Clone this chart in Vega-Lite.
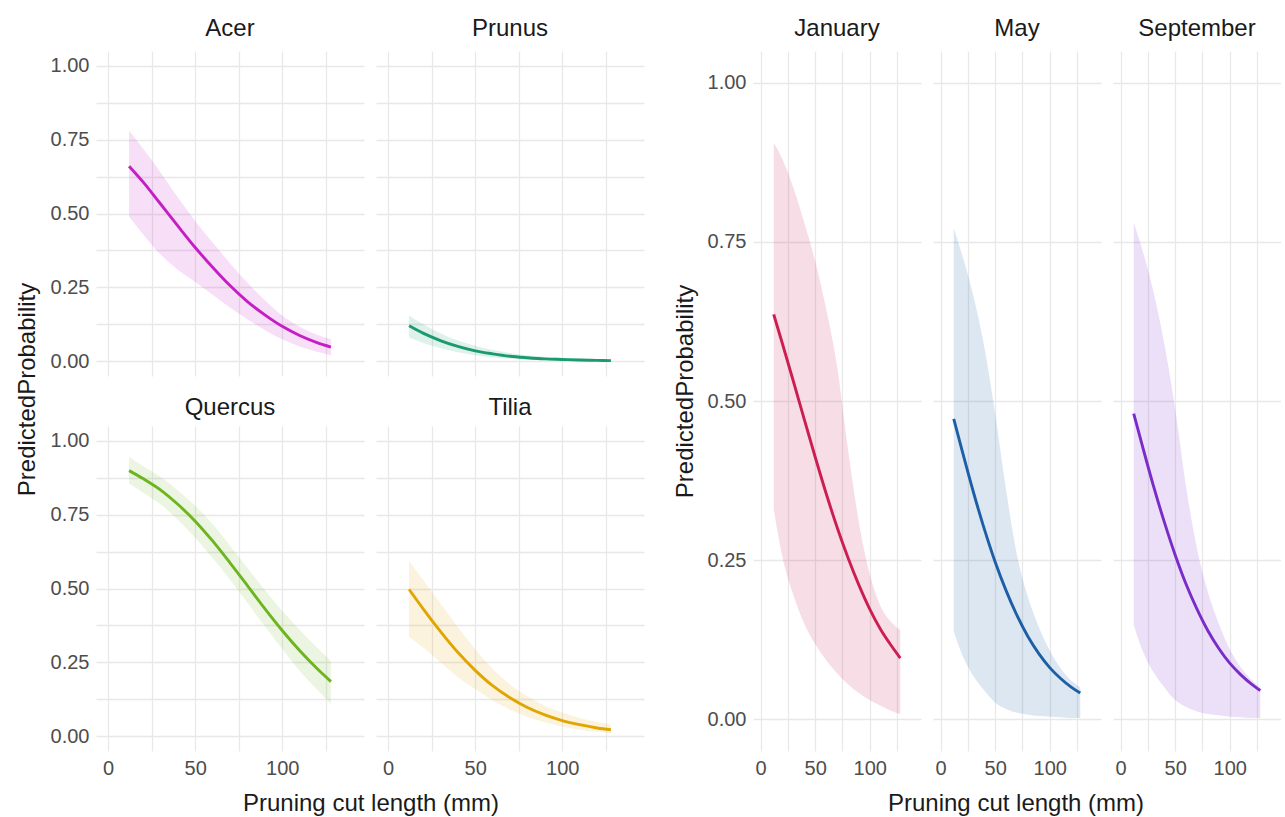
{
  "$schema": "https://vega.github.io/schema/vega-lite/v6.json",
  "padding": {"left": 16, "top": 17, "right": 0, "bottom": 0},
  "background": "white",
  "config": {
    "font": "Liberation Sans",
    "view": {"stroke": null},
    "axis": {
      "gridColor": "#E8E8E8", "gridWidth": 1.3, "domain": false, "ticks": false,
      "labelColor": "#4D4D4D", "labelFontSize": 20, "labelPadding": 7,
      "titleFontSize": 24, "titleFontWeight": "normal", "titleColor": "#1A1A1A"
    },
    "title": {"fontSize": 24, "fontWeight": "normal", "color": "#1A1A1A"},
    "header": {"labelFontSize": 24, "labelColor": "#1A1A1A", "labelPadding": 10}
  },
  "resolve": {"scale": {"color": "independent"}},
  "spacing": 29,
  "datasets": {
    "genus": [
      {"genus": "Acer", "length": 12, "fit": 0.660, "lo": 0.490, "hi": 0.780},
      {"genus": "Acer", "length": 20, "fit": 0.607, "lo": 0.430, "hi": 0.720},
      {"genus": "Acer", "length": 30, "fit": 0.533, "lo": 0.362, "hi": 0.640},
      {"genus": "Acer", "length": 40, "fit": 0.458, "lo": 0.310, "hi": 0.555},
      {"genus": "Acer", "length": 50, "fit": 0.385, "lo": 0.268, "hi": 0.475},
      {"genus": "Acer", "length": 60, "fit": 0.318, "lo": 0.225, "hi": 0.402},
      {"genus": "Acer", "length": 70, "fit": 0.256, "lo": 0.182, "hi": 0.332},
      {"genus": "Acer", "length": 80, "fit": 0.202, "lo": 0.142, "hi": 0.266},
      {"genus": "Acer", "length": 90, "fit": 0.157, "lo": 0.106, "hi": 0.206},
      {"genus": "Acer", "length": 100, "fit": 0.118, "lo": 0.074, "hi": 0.155},
      {"genus": "Acer", "length": 110, "fit": 0.087, "lo": 0.050, "hi": 0.117},
      {"genus": "Acer", "length": 120, "fit": 0.063, "lo": 0.032, "hi": 0.090},
      {"genus": "Acer", "length": 128, "fit": 0.048, "lo": 0.020, "hi": 0.075},
      {"genus": "Prunus", "length": 12, "fit": 0.120, "lo": 0.080, "hi": 0.155},
      {"genus": "Prunus", "length": 20, "fit": 0.095, "lo": 0.062, "hi": 0.125},
      {"genus": "Prunus", "length": 30, "fit": 0.070, "lo": 0.045, "hi": 0.095},
      {"genus": "Prunus", "length": 40, "fit": 0.050, "lo": 0.030, "hi": 0.070},
      {"genus": "Prunus", "length": 50, "fit": 0.035, "lo": 0.020, "hi": 0.052},
      {"genus": "Prunus", "length": 60, "fit": 0.025, "lo": 0.013, "hi": 0.038},
      {"genus": "Prunus", "length": 70, "fit": 0.017, "lo": 0.008, "hi": 0.028},
      {"genus": "Prunus", "length": 80, "fit": 0.012, "lo": 0.005, "hi": 0.020},
      {"genus": "Prunus", "length": 90, "fit": 0.008, "lo": 0.003, "hi": 0.015},
      {"genus": "Prunus", "length": 100, "fit": 0.006, "lo": 0.002, "hi": 0.011},
      {"genus": "Prunus", "length": 110, "fit": 0.004, "lo": 0.001, "hi": 0.008},
      {"genus": "Prunus", "length": 120, "fit": 0.003, "lo": 0.001, "hi": 0.006},
      {"genus": "Prunus", "length": 128, "fit": 0.002, "lo": 0.000, "hi": 0.005},
      {"genus": "Quercus", "length": 12, "fit": 0.899, "lo": 0.855, "hi": 0.945},
      {"genus": "Quercus", "length": 20, "fit": 0.872, "lo": 0.825, "hi": 0.915},
      {"genus": "Quercus", "length": 30, "fit": 0.834, "lo": 0.785, "hi": 0.878},
      {"genus": "Quercus", "length": 40, "fit": 0.785, "lo": 0.733, "hi": 0.832},
      {"genus": "Quercus", "length": 50, "fit": 0.728, "lo": 0.672, "hi": 0.780},
      {"genus": "Quercus", "length": 60, "fit": 0.661, "lo": 0.603, "hi": 0.718},
      {"genus": "Quercus", "length": 70, "fit": 0.587, "lo": 0.530, "hi": 0.645},
      {"genus": "Quercus", "length": 80, "fit": 0.510, "lo": 0.452, "hi": 0.570},
      {"genus": "Quercus", "length": 90, "fit": 0.432, "lo": 0.372, "hi": 0.495},
      {"genus": "Quercus", "length": 100, "fit": 0.358, "lo": 0.295, "hi": 0.425},
      {"genus": "Quercus", "length": 110, "fit": 0.290, "lo": 0.222, "hi": 0.360},
      {"genus": "Quercus", "length": 120, "fit": 0.229, "lo": 0.158, "hi": 0.300},
      {"genus": "Quercus", "length": 128, "fit": 0.185, "lo": 0.110, "hi": 0.255},
      {"genus": "Tilia", "length": 12, "fit": 0.497, "lo": 0.337, "hi": 0.595},
      {"genus": "Tilia", "length": 20, "fit": 0.432, "lo": 0.300, "hi": 0.530},
      {"genus": "Tilia", "length": 30, "fit": 0.355, "lo": 0.250, "hi": 0.450},
      {"genus": "Tilia", "length": 40, "fit": 0.284, "lo": 0.200, "hi": 0.370},
      {"genus": "Tilia", "length": 50, "fit": 0.223, "lo": 0.160, "hi": 0.295},
      {"genus": "Tilia", "length": 60, "fit": 0.171, "lo": 0.122, "hi": 0.228},
      {"genus": "Tilia", "length": 70, "fit": 0.130, "lo": 0.090, "hi": 0.175},
      {"genus": "Tilia", "length": 80, "fit": 0.097, "lo": 0.066, "hi": 0.135},
      {"genus": "Tilia", "length": 90, "fit": 0.072, "lo": 0.047, "hi": 0.103},
      {"genus": "Tilia", "length": 100, "fit": 0.053, "lo": 0.033, "hi": 0.080},
      {"genus": "Tilia", "length": 110, "fit": 0.039, "lo": 0.022, "hi": 0.062},
      {"genus": "Tilia", "length": 120, "fit": 0.028, "lo": 0.015, "hi": 0.048},
      {"genus": "Tilia", "length": 128, "fit": 0.022, "lo": 0.011, "hi": 0.040}
    ],
    "month": [
      {"month": "January", "length": 12, "fit": 0.636, "lo": 0.330, "hi": 0.906},
      {"month": "January", "length": 20, "fit": 0.590, "lo": 0.255, "hi": 0.880},
      {"month": "January", "length": 30, "fit": 0.531, "lo": 0.195, "hi": 0.835},
      {"month": "January", "length": 40, "fit": 0.471, "lo": 0.150, "hi": 0.780},
      {"month": "January", "length": 50, "fit": 0.412, "lo": 0.118, "hi": 0.720},
      {"month": "January", "length": 60, "fit": 0.355, "lo": 0.093, "hi": 0.645},
      {"month": "January", "length": 70, "fit": 0.302, "lo": 0.072, "hi": 0.555},
      {"month": "January", "length": 80, "fit": 0.254, "lo": 0.055, "hi": 0.425},
      {"month": "January", "length": 90, "fit": 0.211, "lo": 0.041, "hi": 0.310},
      {"month": "January", "length": 100, "fit": 0.173, "lo": 0.030, "hi": 0.228},
      {"month": "January", "length": 110, "fit": 0.141, "lo": 0.021, "hi": 0.177},
      {"month": "January", "length": 120, "fit": 0.115, "lo": 0.013, "hi": 0.152},
      {"month": "January", "length": 128, "fit": 0.096, "lo": 0.008, "hi": 0.140},
      {"month": "May", "length": 12, "fit": 0.472, "lo": 0.138, "hi": 0.772},
      {"month": "May", "length": 20, "fit": 0.420, "lo": 0.100, "hi": 0.728},
      {"month": "May", "length": 30, "fit": 0.357, "lo": 0.068, "hi": 0.665},
      {"month": "May", "length": 40, "fit": 0.299, "lo": 0.045, "hi": 0.585},
      {"month": "May", "length": 50, "fit": 0.247, "lo": 0.026, "hi": 0.480},
      {"month": "May", "length": 60, "fit": 0.202, "lo": 0.016, "hi": 0.360},
      {"month": "May", "length": 70, "fit": 0.163, "lo": 0.010, "hi": 0.258},
      {"month": "May", "length": 80, "fit": 0.130, "lo": 0.007, "hi": 0.192},
      {"month": "May", "length": 90, "fit": 0.103, "lo": 0.005, "hi": 0.145},
      {"month": "May", "length": 100, "fit": 0.081, "lo": 0.004, "hi": 0.108},
      {"month": "May", "length": 110, "fit": 0.064, "lo": 0.003, "hi": 0.080},
      {"month": "May", "length": 120, "fit": 0.050, "lo": 0.002, "hi": 0.060},
      {"month": "May", "length": 128, "fit": 0.041, "lo": 0.002, "hi": 0.050},
      {"month": "September", "length": 12, "fit": 0.480, "lo": 0.148, "hi": 0.780},
      {"month": "September", "length": 20, "fit": 0.429, "lo": 0.108, "hi": 0.737},
      {"month": "September", "length": 30, "fit": 0.367, "lo": 0.074, "hi": 0.672},
      {"month": "September", "length": 40, "fit": 0.310, "lo": 0.050, "hi": 0.590},
      {"month": "September", "length": 50, "fit": 0.258, "lo": 0.030, "hi": 0.488},
      {"month": "September", "length": 60, "fit": 0.212, "lo": 0.019, "hi": 0.365},
      {"month": "September", "length": 70, "fit": 0.173, "lo": 0.012, "hi": 0.268},
      {"month": "September", "length": 80, "fit": 0.139, "lo": 0.008, "hi": 0.200},
      {"month": "September", "length": 90, "fit": 0.111, "lo": 0.006, "hi": 0.150},
      {"month": "September", "length": 100, "fit": 0.088, "lo": 0.004, "hi": 0.110},
      {"month": "September", "length": 110, "fit": 0.070, "lo": 0.003, "hi": 0.082},
      {"month": "September", "length": 120, "fit": 0.055, "lo": 0.002, "hi": 0.062},
      {"month": "September", "length": 128, "fit": 0.045, "lo": 0.002, "hi": 0.050}
    ]
  },
  "hconcat": [
    {
      "title": {"text": "PredictedProbability", "orient": "left", "anchor": "middle", "offset": 10, "dx": 27},
      "spacing": 20,
      "vconcat": [
        {
          "data": {"name": "genus"},
          "transform": [{"filter": {"field": "genus", "oneOf": ["Acer", "Prunus"]}}],
          "facet": {"column": {"field": "genus", "type": "nominal", "header": {"title": null, "labelPadding": 10}}},
          "spacing": {"column": 12},
          "spec": {
            "width": 268,
            "height": 325,
            "encoding": {
              "x": {"field": "length", "type": "quantitative", "title": null,
                    "scale": {"domain": [-7, 147], "nice": false, "zero": false},
                    "axis": {"values": [0, 25, 50, 75, 100, 125], "labels": false}},
              "color": {"field": "genus", "type": "nominal", "legend": null,
                        "scale": {"domain": ["Acer", "Prunus", "Quercus", "Tilia"], "range": ["#C41EC4", "#1B9A72", "#6DB51E", "#E0A500"]}}
            },
            "layer": [
              {"mark": {"type": "area", "opacity": 0.14, "interpolate": "monotone"},
               "encoding": {"y": {"field": "hi", "type": "quantitative"}, "y2": {"field": "lo"}}},
              {"mark": {"type": "line", "strokeWidth": 2.9, "interpolate": "monotone"},
               "encoding": {"y": {"field": "fit", "type": "quantitative", "title": null,
                                  "scale": {"domain": [-0.05, 1.05], "nice": false, "zero": false},
                                  "axis": {"values": [0, 0.125, 0.25, 0.375, 0.5, 0.625, 0.75, 0.875, 1], "labelExpr": "datum.value % 0.25 == 0 ? format(datum.value, '.2f') : ''", "labelOverlap": false}}}}
            ]
          }
        },
        {
          "data": {"name": "genus"},
          "transform": [{"filter": {"field": "genus", "oneOf": ["Quercus", "Tilia"]}}],
          "title": {"text": "Pruning cut length (mm)", "orient": "bottom", "anchor": "middle", "offset": 14, "dx": 24},
          "facet": {"column": {"field": "genus", "type": "nominal", "header": {"title": null, "labelPadding": 6}}},
          "spacing": {"column": 12},
          "spec": {
            "width": 268,
            "height": 325,
            "encoding": {
              "x": {"field": "length", "type": "quantitative", "title": null,
                    "scale": {"domain": [-7, 147], "nice": false, "zero": false},
                    "axis": {"values": [0, 25, 50, 75, 100, 125], "labelExpr": "datum.value % 50 == 0 ? datum.label : ''", "labelOverlap": false}},
              "color": {"field": "genus", "type": "nominal", "legend": null,
                        "scale": {"domain": ["Acer", "Prunus", "Quercus", "Tilia"], "range": ["#C41EC4", "#1B9A72", "#6DB51E", "#E0A500"]}}
            },
            "layer": [
              {"mark": {"type": "area", "opacity": 0.13, "interpolate": "monotone"},
               "encoding": {"y": {"field": "hi", "type": "quantitative"}, "y2": {"field": "lo"}}},
              {"mark": {"type": "line", "strokeWidth": 2.9, "interpolate": "monotone"},
               "encoding": {"y": {"field": "fit", "type": "quantitative", "title": null,
                                  "scale": {"domain": [-0.05, 1.05], "nice": false, "zero": false},
                                  "axis": {"values": [0, 0.125, 0.25, 0.375, 0.5, 0.625, 0.75, 0.875, 1], "labelExpr": "datum.value % 0.25 == 0 ? format(datum.value, '.2f') : ''", "labelOverlap": false}}}}
            ]
          }
        }
      ]
    },
    {
      "data": {"name": "month"},
      "title": {"text": "Pruning cut length (mm)", "orient": "bottom", "anchor": "middle", "offset": 14, "dx": 39},
      "facet": {"column": {"field": "month", "type": "nominal", "sort": ["January", "May", "September"], "header": {"title": null, "labelPadding": 10}}},
      "spacing": {"column": 12},
      "spec": {
        "width": 168,
        "height": 700,
        "encoding": {
          "x": {"field": "length", "type": "quantitative", "title": null,
                "scale": {"domain": [-7, 147], "nice": false, "zero": false},
                "axis": {"values": [0, 25, 50, 75, 100, 125], "labelExpr": "datum.value % 50 == 0 ? datum.label : ''", "labelOverlap": false}},
          "color": {"field": "month", "type": "nominal", "legend": null,
                    "scale": {"domain": ["January", "May", "September"], "range": ["#CC1E50", "#1D5FA6", "#7A2CC8"]}}
        },
        "layer": [
          {"mark": {"type": "area", "opacity": 0.15, "interpolate": "monotone"},
           "encoding": {"y": {"field": "hi", "type": "quantitative"}, "y2": {"field": "lo"}}},
          {"mark": {"type": "line", "strokeWidth": 2.9, "interpolate": "monotone"},
           "encoding": {"y": {"field": "fit", "type": "quantitative", "title": "PredictedProbability",
                              "scale": {"domain": [-0.05, 1.05], "nice": false, "zero": false},
                              "axis": {"values": [0, 0.25, 0.5, 0.75, 1], "format": ".2f", "labelOverlap": false, "titlePadding": 10, "titleY": 340}}}}
        ]
      }
    }
  ]
}
